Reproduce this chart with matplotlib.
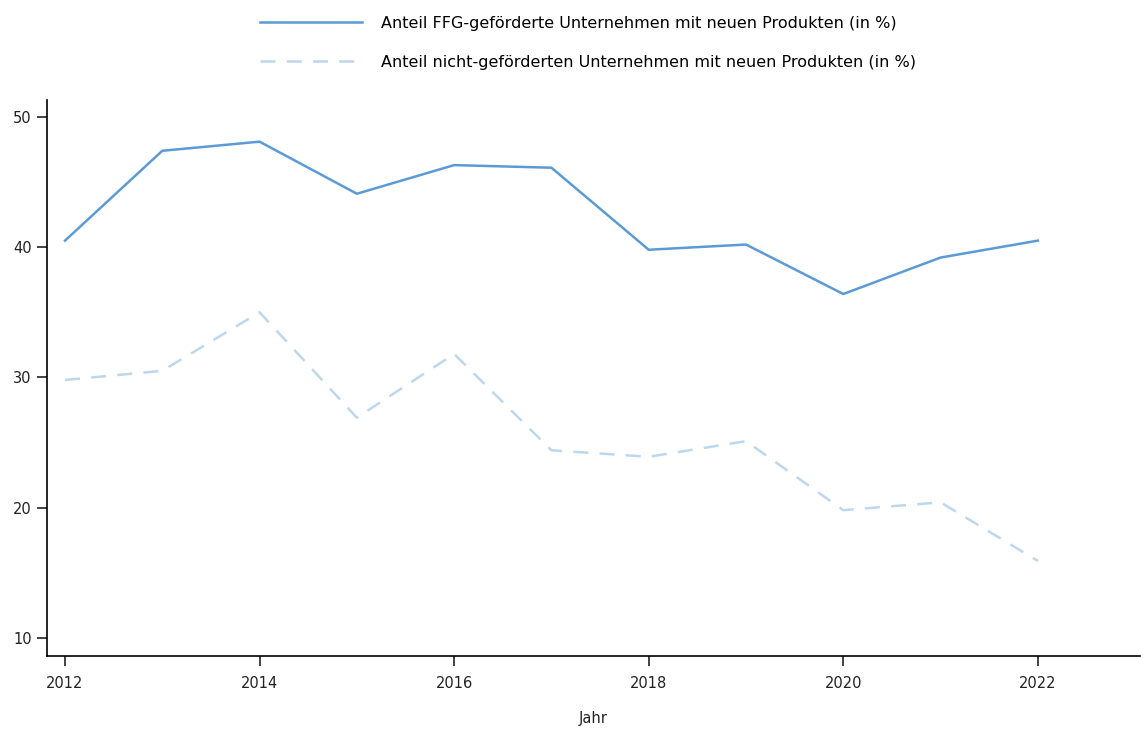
import matplotlib
matplotlib.use("Agg")
import matplotlib.pyplot as plt

years = [2012, 2013, 2014, 2015, 2016, 2017, 2018, 2019, 2020, 2021, 2022]
ffg = [40.5, 47.4, 48.1, 44.1, 46.3, 46.1, 39.8, 40.2, 36.4, 39.2, 40.5]
non_ffg = [29.8, 30.5, 35.0, 26.9, 31.8, 24.4, 23.9, 25.1, 19.8, 20.4, 15.9]
labels = ["Anteil FFG-geförderte Unternehmen mit neuen Produkten (in %)",
          "Anteil nicht-geförderten Unternehmen mit neuen Produkten (in %)"]
xticks = [2012, 2014, 2016, 2018, 2020, 2022]
yticks = [10, 20, 30, 40, 50]

plt.rcParams['font.family'] = ['DejaVu Sans']
fig = plt.figure(figsize=(11.41, 7.29), dpi=100)
ax = fig.add_axes([47/1141, 1-656/729, (1140-47)/1141, (656-100)/729])

l1, = ax.plot(years, ffg, color="#5b9bd5", lw=1.8, label=labels[0])
l2, = ax.plot(years, non_ffg, color="#bdd7ee", lw=1.8, ls=(0, (6, 4.5)), label=labels[1])

ax.set_xlim(2011.815, 2023.05)
ax.set_ylim(8.6, 51.3)
ax.set_xticks(xticks)
ax.set_yticks(yticks)
ax.tick_params(labelsize=10.5, length=7.5, width=1.2, color="#222222", labelcolor="#222222")
ax.tick_params(axis="x", pad=7)
for s in ["top", "right"]:
    ax.spines[s].set_visible(False)
for s in ["left", "bottom"]:
    ax.spines[s].set_linewidth(1.2)
ax.set_xlabel("Jahr", fontsize=10.5, color="#222222", labelpad=14)

fig.legend(handles=[l1, l2], loc="upper center", bbox_to_anchor=(0.5155, 1.0),
           frameon=False, fontsize=11.5, handlelength=6.4, handletextpad=1.2,
           labelspacing=1.5, borderaxespad=0.6)
fig.savefig("out.png", dpi=100)
